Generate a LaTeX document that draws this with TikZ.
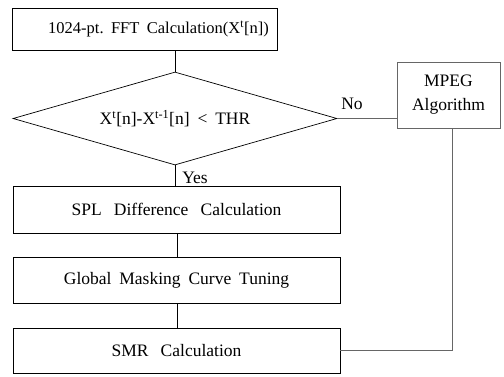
\documentclass[tikz,border=0pt]{standalone}
\usepackage{fontspec}
\setmainfont{Liberation Serif}
\usetikzlibrary{shapes.geometric}
% wide word gaps used in the box labels
\newcommand{\widegap}{\hspace{0.7em}}
\newcommand{\narrowgap}{\hspace{0.45em}}
\begin{document}
\begin{tikzpicture}[x=1pt,y=-1pt,
  every node/.style={font=\fontsize{17.5}{21}\selectfont},
  proc/.style={draw,line width=0.7pt,inner sep=0pt,minimum height=#1},
  proc/.default=46pt,
  flow/.style={draw,line width=0.7pt},
  side/.style={draw,black!60,line width=0.6pt},
  lbl/.style={inner sep=1pt}]
\useasboundingbox (0,0) rectangle (504,376);
% processing steps
\node[proc=42pt,minimum width=265pt,font=\fontsize{16.5}{20}\selectfont] (fft) at (144.5,29) {\hspace{28pt}1024-pt.\narrowgap FFT\narrowgap Calculation(X\textsuperscript{t}[n])};
\node[draw,line width=0.7pt,shape=diamond,aspect=3.48,minimum width=324pt,minimum height=93pt,inner sep=0pt] (cmp) at (175,118.5) {X\textsuperscript{t}[n]-X\textsuperscript{t-1}[n]\narrowgap<\narrowgap THR};
\node[proc=47pt,minimum width=327pt] (spl) at (176.5,209.5) {SPL\widegap Difference\widegap Calculation};
\node[proc=46pt,minimum width=327pt] (gmc) at (176.5,280) {Global\narrowgap Masking\narrowgap Curve\narrowgap Tuning};
\node[proc=45pt,minimum width=327pt] (smr) at (176.5,350.5) {SMR\widegap Calculation};
\node[proc=66pt,minimum width=103pt,align=center,draw=black!60,line width=0.6pt] (mpeg) at (448.5,95) {MPEG\\[3pt]Algorithm};
% connectors
\draw[flow] (cmp.north) -- (cmp.north |- fft.south);
\draw[flow] (cmp.south) -- (cmp.south |- spl.north);
\draw[flow] (177,0 |- spl.south) -- (177,0 |- gmc.north);
\draw[flow] (177,0 |- gmc.south) -- (177,0 |- smr.north);
\draw[side] (cmp.east) -- (cmp.east -| mpeg.west);
\draw[side] (452,0 |- mpeg.south) |- (smr.east);
% branch labels
\node[lbl] (no) at (352,104) {No};
\node[lbl] (yes) at (195,178) {Yes};
\end{tikzpicture}
\end{document}
